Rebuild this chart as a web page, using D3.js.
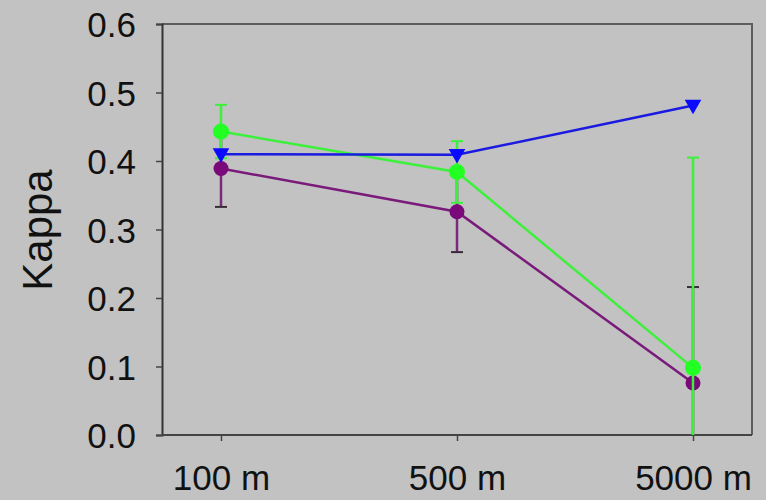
<!DOCTYPE html>
<html><head><meta charset="utf-8">
<script src="https://cdn.jsdelivr.net/npm/d3@7"></script>
<style>html,body{margin:0;padding:0;background:#c2c2c2;}svg{display:block;}</style>
</head><body>
<svg id="chart" width="766" height="500"></svg>
<script>
const categories = ["100 m", "500 m", "5000 m"];
const yTicks = [0.0, 0.1, 0.2, 0.3, 0.4, 0.5, 0.6];
const blueValues = [0.410, 0.409, 0.481];
const greenValues = [0.443, 0.384, 0.098];
const greenErr = [0.039, 0.045, 0.307];
const purpleValues = [0.389, 0.326, 0.076];
const purpleErr = [0.056, 0.059, 0.140];

const svg = d3.select("#chart");
const W = 766, H = 500;
const pL = 162, pR = 752, pT = 24, pB = 435;
svg.append("rect").attr("width", W).attr("height", H).attr("fill", "#c2c2c2");

const x = d3.scalePoint().domain(categories).range([pL, pR]).padding(0.25);
const y = d3.scaleLinear().domain([0, 0.6]).range([pB, pT]);

// frame top/right
svg.append("path").attr("d", `M${pL},${pT}H${pR}V${pB}`)
  .attr("fill", "none").attr("stroke", "#5e5e5e").attr("stroke-width", 2);

// y axis
const yAxis = svg.append("g").attr("transform", `translate(${pL},0)`)
  .call(d3.axisLeft(y).tickValues(yTicks).tickFormat(d3.format(".1f")).tickSize(6).tickPadding(20));
yAxis.select(".domain").attr("stroke", "#333").attr("stroke-width", 2);
yAxis.selectAll(".tick line").attr("stroke", "#444").attr("stroke-width", 1.5);
yAxis.selectAll(".tick text").attr("font-family", "Liberation Sans, Arial, sans-serif")
  .attr("font-size", 35).attr("fill", "#111").attr("dy", "0.36em");

// x axis
const xAxis = svg.append("g").attr("transform", `translate(0,${pB})`)
  .call(d3.axisBottom(x).tickSize(6).tickPadding(24).tickSizeOuter(0));
xAxis.select(".domain").attr("stroke", "#444").attr("stroke-width", 2)
  .attr("d", `M${pL},0H${pR}`);
xAxis.selectAll(".tick line").attr("stroke", "#444").attr("stroke-width", 1.5);
xAxis.selectAll(".tick text").attr("font-family", "Liberation Sans, Arial, sans-serif")
  .attr("font-size", 35).attr("fill", "#111").attr("dy", "0.71em");

// y label
svg.append("text").attr("transform", "translate(52,230) rotate(-90)")
  .attr("text-anchor", "middle").attr("font-family", "Liberation Sans, Arial, sans-serif")
  .attr("font-size", 42).attr("fill", "#111").text("Kappa");

const plot = svg.append("g");

function series(vals, errs, color, errColor, capColor) {
  const g = plot.append("g");
  const line = d3.line().x((d, i) => x(categories[i])).y(d => y(d));
  g.append("path").attr("d", line(vals)).attr("fill", "none")
    .attr("stroke", color).attr("stroke-width", 2.5);
  if (errs) {
    vals.forEach((v, i) => {
      const cx = x(categories[i]);
      const hi = v + errs[i], lo = Math.max(0, v - errs[i]);
      g.append("line").attr("x1", cx).attr("x2", cx).attr("y1", y(hi)).attr("y2", y(lo))
        .attr("stroke", errColor).attr("stroke-width", 2.5);
      [hi, v - errs[i]].forEach(e => {
        if (e >= 0) g.append("line").attr("x1", cx - 6).attr("x2", cx + 6)
          .attr("y1", y(e)).attr("y2", y(e)).attr("stroke", capColor).attr("stroke-width", 2);
      });
    });
  }
  return g;
}

const gp = series(purpleValues, purpleErr, "#7a1a7a", "#7a2a7a", "#3a2a3a");
gp.selectAll("circle.m").data(purpleValues).join("circle")
  .attr("cx", (d, i) => x(categories[i])).attr("cy", d => y(d)).attr("r", 7.5).attr("fill", "#7a0a7a");

const gg = series(greenValues, greenErr, "#3cf03c", "#3cf03c", "#3cf03c");
gg.selectAll("circle.m").data(greenValues).join("circle")
  .attr("cx", (d, i) => x(categories[i])).attr("cy", d => y(d)).attr("r", 8).attr("fill", "#22ff22");

const gb = series(blueValues, null, "#1a1ae0", null, null);
gb.selectAll("path.m").data(blueValues).join("path")
  .attr("d", d3.symbol(d3.symbolTriangle, 120))
  .attr("transform", (d, i) => `translate(${x(categories[i])},${y(d) - 1}) rotate(180)`)
  .attr("fill", "#0a0aff");
</script>
</body></html>
